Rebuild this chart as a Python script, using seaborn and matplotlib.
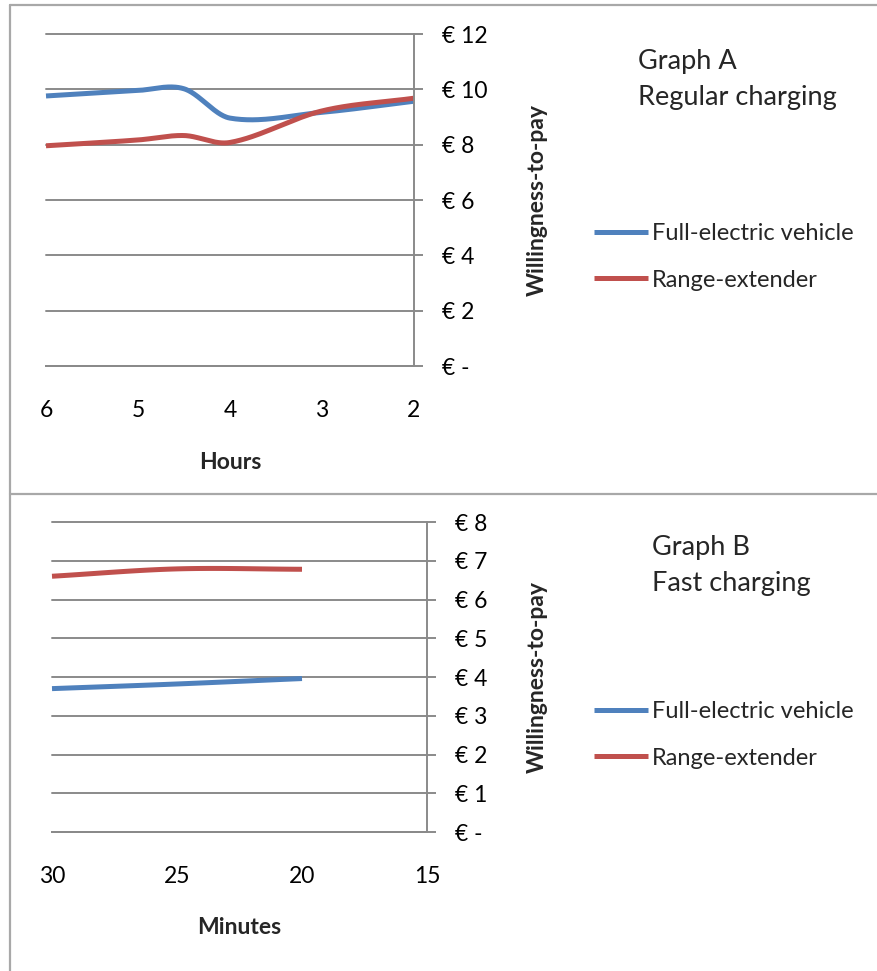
import numpy as np
import matplotlib
matplotlib.use("Agg")
import matplotlib.pyplot as plt
from matplotlib.lines import Line2D
import seaborn as sns

# Graph A: regular charging, willingness-to-pay (EUR) against charging time in hours
hours = [6, 5, 4.5, 4, 3, 2]
wtp_full_electric_a = [9.76, 9.96, 10.02, 8.96, 9.17, 9.57]
wtp_range_extender_a = [7.96, 8.17, 8.33, 8.08, 9.22, 9.68]

# Graph B: fast charging, willingness-to-pay (EUR) against charging time in minutes
minutes = [30, 25, 20]
wtp_full_electric_b = [3.70, 3.82, 3.96]
wtp_range_extender_b = [6.60, 6.79, 6.78]

series_names = ["Full-electric vehicle", "Range-extender"]
series_colors = ["#4F81BD", "#C0504D"]

yticks_a = [0, 2, 4, 6, 8, 10, 12]
yticks_b = [0, 1, 2, 3, 4, 5, 6, 7, 8]
xticks_a = [6, 5, 4, 3, 2]
xticks_b = [30, 25, 20, 15]


def euro(v):
    return "€ -" if v == 0 else f"€ {v}"


def smooth(xs, ys, steps=50):
    """Cubic Hermite 'smoothed line' through the points (finite-difference slopes)."""
    x = np.asarray(xs, dtype=float)
    y = np.asarray(ys, dtype=float)
    n = len(x)
    m = np.empty(n)
    m[0] = (y[1] - y[0]) / (x[1] - x[0])
    m[-1] = (y[-1] - y[-2]) / (x[-1] - x[-2])
    for i in range(1, n - 1):
        m[i] = (y[i + 1] - y[i - 1]) / (x[i + 1] - x[i - 1])
    out_x, out_y = [x[0]], [y[0]]
    t = np.linspace(0, 1, steps)[1:]
    for i in range(n - 1):
        h = x[i + 1] - x[i]
        h00 = 2 * t ** 3 - 3 * t ** 2 + 1
        h10 = t ** 3 - 2 * t ** 2 + t
        h01 = -2 * t ** 3 + 3 * t ** 2
        h11 = t ** 3 - t ** 2
        out_x.extend(x[i] + t * h)
        out_y.extend(h00 * y[i] + h10 * h * m[i] + h01 * y[i + 1] + h11 * h * m[i + 1])
    return np.array(out_x), np.array(out_y)


sns.set_style("white")
plt.rcParams["font.family"] = ["Lato", "DejaVu Sans"]

W, H = 877, 971
fig = plt.figure(figsize=(W / 100, H / 100), dpi=100)

GRID = "#8a8a8a"
FRAME = "#a8a8a8"
TICK_FS = 16.5


def px_axes(left, top, right, bottom):
    return fig.add_axes([left / W, 1 - bottom / H, (right - left) / W, (bottom - top) / H])


def draw_panel(ax, x, series, xlim, xticks, yticks, xlabel, title, subtitle,
               title_px, legend_px, ylabel_x):
    for name, color, vals in zip(series_names, series_colors, series):
        cx, cy = smooth(x, vals)
        sns.lineplot(x=cx, y=cy, ax=ax, color=color, lw=3.6,
                     sort=False, estimator=None, label=name, clip_on=False,
                     solid_capstyle="butt")
    ax.set_xlim(*xlim)
    ax.set_ylim(yticks[0], yticks[-1])
    ax.set_xticks(xticks)
    ax.set_xticklabels([str(v) for v in xticks])
    ax.set_yticks(yticks)
    ax.set_yticklabels([euro(v) for v in yticks])
    ax.yaxis.tick_right()
    ax.yaxis.set_label_position("right")
    for s in ["left", "top"]:
        ax.spines[s].set_visible(False)
    for s in ["right", "bottom"]:
        ax.spines[s].set_color(GRID)
        ax.spines[s].set_linewidth(1.4)
    ax.set_axisbelow(True)
    ax.grid(axis="y", color=GRID, lw=1.4)
    ax.grid(axis="x", visible=False)
    for gl in ax.get_ygridlines():
        gl.set_clip_on(False)
    ax.tick_params(axis="y", direction="out", length=6.5, width=1.4, color=GRID,
                   pad=14, labelsize=TICK_FS, labelcolor="black")
    ax.tick_params(axis="x", direction="out", length=6.5, width=1.4, color=GRID,
                   pad=18, labelsize=TICK_FS, labelcolor="black")
    ax.set_xlabel(xlabel, fontsize=16.5, fontweight="bold", va="center")
    ax.set_ylabel("Willingness-to-pay", fontsize=16.5, fontweight="bold",
                  rotation=90, va="center", ha="center")
    ax.yaxis.set_label_coords(ylabel_x, 0.5)

    tx, ty = title_px
    fig.text(tx / W, 1 - ty / H, title, fontsize=19.5, va="center", ha="left")
    fig.text(tx / W, 1 - (ty + 36) / H, subtitle, fontsize=19.5, va="center", ha="left")

    handles, labels = ax.get_legend_handles_labels()
    lx, ly = legend_px
    leg = ax.legend(handles, labels, loc="center left",
                    bbox_to_anchor=(lx / W, 1 - ly / H),
                    bbox_transform=fig.transFigure, frameon=False, fontsize=17,
                    handlelength=2.3, handletextpad=0.17, labelspacing=1.06,
                    borderpad=0, borderaxespad=0)
    for line in leg.get_lines():
        line.set_linewidth(3.6)
    return ax


# Graph A
ax_a = px_axes(46, 34, 414, 366)
draw_panel(ax_a, hours, [wtp_full_electric_a, wtp_range_extender_a], (6, 2),
           xticks_a, yticks_a, "Hours", "Graph A", "Regular charging",
           (638, 62), (594, 257), (537 - 46) / 368)
ax_a.xaxis.set_label_coords(0.5, -(462 - 366) / 332)

# Graph B
ax_b = px_axes(52, 522, 427, 832)
draw_panel(ax_b, minutes, [wtp_full_electric_b, wtp_range_extender_b], (30, 15),
           xticks_b, yticks_b, "Minutes", "Graph B", "Fast charging",
           (652, 547), (594, 735), (537 - 52) / 375)
ax_b.xaxis.set_label_coords(0.5, -(927 - 832) / 310)

# Sheet frame: top edge, left edge and the divider between the two graphs
for (x0, y0, x1, y1) in [(10, 5.5, W, 5.5), (10, 5.5, 10, H), (10, 494, W, 494)]:
    fig.add_artist(Line2D([x0 / W, x1 / W], [1 - y0 / H, 1 - y1 / H],
                          transform=fig.transFigure, color=FRAME, lw=1.6))

fig.savefig("out.png", dpi=100)
